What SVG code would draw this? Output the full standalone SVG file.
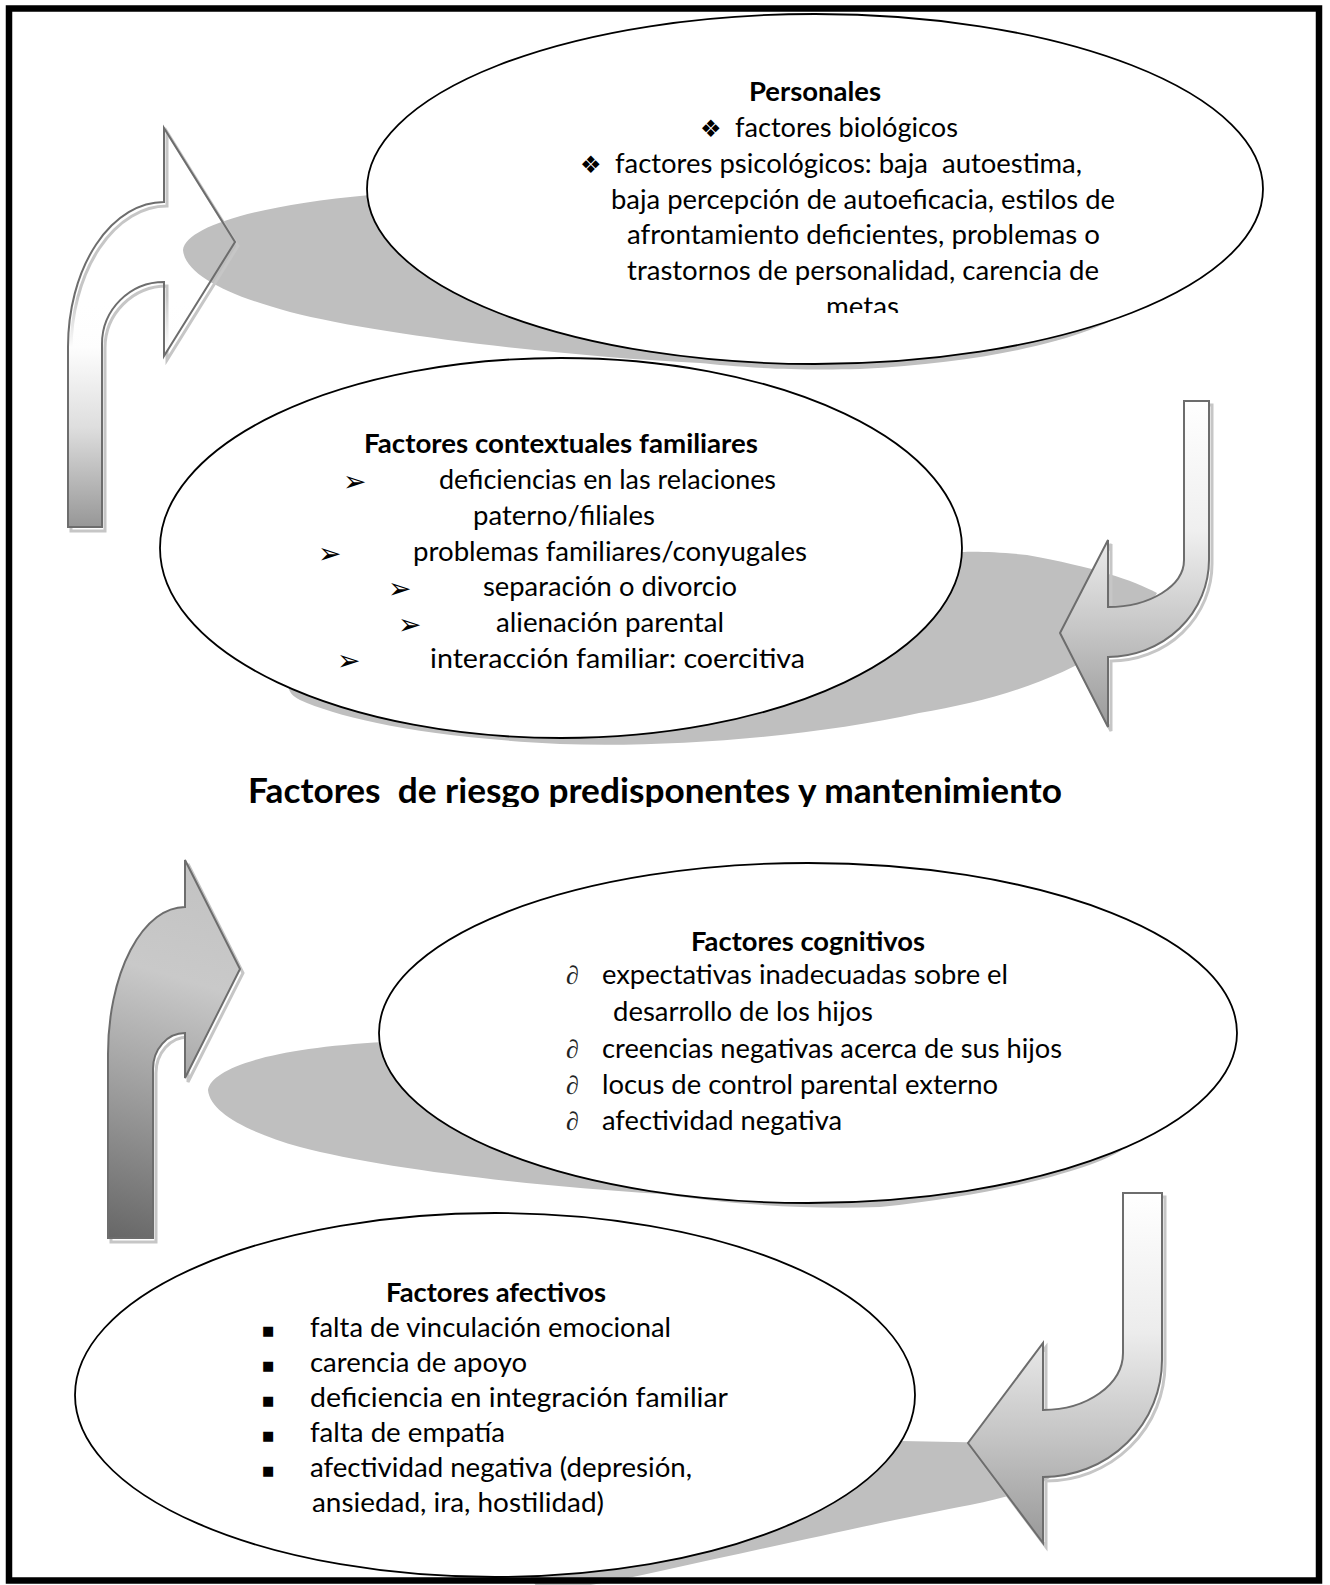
<svg xmlns="http://www.w3.org/2000/svg" width="1330" height="1585" viewBox="0 0 1330 1585">
  <defs>
    <style>
      .t{font-family:Lato,"Liberation Sans",sans-serif;font-size:27px;fill:#000}
      .b{font-weight:700}
      .h{font-family:Lato,"Liberation Sans",sans-serif;font-size:34px;font-weight:700;fill:#000}
      .bul{font-family:"DejaVu Sans",sans-serif;font-size:24px;fill:#000}
      .arr{font-family:"DejaVu Sans",sans-serif;font-size:28px;fill:#000}
      .sq{font-family:"DejaVu Sans",sans-serif;font-size:13px;fill:#000}
      .del{font-family:"Liberation Serif",serif;font-style:italic;font-size:26px;fill:#222}
      .node-shape{fill:#fff;stroke:#000;stroke-width:1.8}
      .shade{fill:#bfbfbf}
      .arrow{stroke:#6d6d6d;stroke-width:2;stroke-linejoin:miter}
      .arrow-shadow{fill:none;stroke:#c6c6c6;stroke-width:3}
    </style>
    <linearGradient id="gTL" gradientUnits="userSpaceOnUse" x1="0" y1="128" x2="0" y2="527">
      <stop offset="0" stop-color="#fff" stop-opacity="0"/>
      <stop offset="0.42" stop-color="#fff" stop-opacity="0"/>
      <stop offset="0.55" stop-color="#fdfdfd" stop-opacity="1"/>
      <stop offset="0.75" stop-color="#dedede"/>
      <stop offset="1" stop-color="#979797"/>
    </linearGradient>
    <linearGradient id="gTR" gradientUnits="userSpaceOnUse" x1="0" y1="401" x2="0" y2="727">
      <stop offset="0" stop-color="#ffffff"/>
      <stop offset="0.4" stop-color="#efefef"/>
      <stop offset="0.7" stop-color="#c6c6c6"/>
      <stop offset="1" stop-color="#9a9a9a"/>
    </linearGradient>
    <linearGradient id="gBR" gradientUnits="userSpaceOnUse" x1="0" y1="1193" x2="0" y2="1543">
      <stop offset="0" stop-color="#ffffff"/>
      <stop offset="0.4" stop-color="#ececec"/>
      <stop offset="0.7" stop-color="#c4c4c4"/>
      <stop offset="1" stop-color="#999999"/>
    </linearGradient>
    <linearGradient id="gBL" gradientUnits="userSpaceOnUse" x1="220" y1="870" x2="110" y2="1238">
      <stop offset="0" stop-color="#c2c2c2"/>
      <stop offset="0.3" stop-color="#c9c9c9"/>
      <stop offset="0.65" stop-color="#999999"/>
      <stop offset="1" stop-color="#676767"/>
    </linearGradient>
    <clipPath id="clipE1"><rect x="0" y="0" width="1330" height="313"/></clipPath>
    <clipPath id="clipTitle"><rect x="0" y="700" width="1330" height="107"/></clipPath>
  </defs>

  <rect width="1330" height="1585" fill="#fff"/>

  <!-- perspective shadows under the ellipses -->
  <g id="shadows">
    <path class="shade" d="M183,250 C186,228 250,206 370,195 L1100,240 L1135,306 C1100,335 1000,362 860,369 C780,371 730,366 700,363 C560,356 380,335 290,312 C230,296 185,275 183,250 Z"/>
    <path class="shade" d="M1157,593 C1133,580 1093,567 1027,555 C1000,552 975,551 962,552 L700,600 L290,680 C286,688 290,695 300,700 C340,718 420,737 560,744 C680,748 820,735 919,713 C1030,695 1125,655 1157,593 Z"/>
    <path class="shade" d="M208,1090 C212,1068 270,1048 385,1042 L1080,1080 L1122,1150 C1095,1168 1000,1195 880,1207 C800,1210 720,1203 661,1194 C520,1185 380,1168 300,1147 C250,1133 210,1113 208,1090 Z"/>
    <path class="shade" d="M902,1441 L1050,1444 L1060,1470 C1040,1488 1010,1497 970,1505 C900,1518 780,1545 665,1570 C620,1580 580,1588 540,1592 L480,1500 Z"/>
  </g>

  <!-- Personales -->
  <g id="node-personales">
    <ellipse class="node-shape" cx="815" cy="189" rx="448" ry="175"/>
    <text class="t b" x="749" y="101" textLength="132" lengthAdjust="spacingAndGlyphs">Personales</text>
    <text class="bul" x="700" y="137">❖</text>
    <text class="t" x="735" y="137" textLength="223" lengthAdjust="spacingAndGlyphs">factores biológicos</text>
    <text class="bul" x="580" y="173">❖</text>
    <text class="t" x="615" y="173" textLength="467" lengthAdjust="spacingAndGlyphs">factores psicológicos: baja&#160; autoestima,</text>
    <text class="t" x="611" y="209" textLength="504" lengthAdjust="spacingAndGlyphs">baja percepción de autoeficacia, estilos de</text>
    <text class="t" x="627" y="244" textLength="473" lengthAdjust="spacingAndGlyphs">afrontamiento deficientes, problemas o</text>
    <text class="t" x="627" y="280" textLength="472" lengthAdjust="spacingAndGlyphs">trastornos de personalidad, carencia de</text>
    <text class="t" x="826" y="316" textLength="73" lengthAdjust="spacingAndGlyphs" clip-path="url(#clipE1)">metas</text>
  </g>

  <!-- Factores contextuales familiares -->
  <g id="node-contextuales">
    <ellipse class="node-shape" cx="561" cy="548" rx="401" ry="190"/>
    <text class="t b" x="364" y="453" textLength="394" lengthAdjust="spacingAndGlyphs">Factores contextuales familiares</text>
    <text class="arr" x="343" y="491">➢</text>
    <text class="t" x="439" y="489" textLength="337" lengthAdjust="spacingAndGlyphs">deficiencias en las relaciones</text>
    <text class="t" x="473" y="525" textLength="182" lengthAdjust="spacingAndGlyphs">paterno/filiales</text>
    <text class="arr" x="318" y="563">➢</text>
    <text class="t" x="413" y="561" textLength="394" lengthAdjust="spacingAndGlyphs">problemas familiares/conyugales</text>
    <text class="arr" x="388" y="598">➢</text>
    <text class="t" x="483" y="596" textLength="254" lengthAdjust="spacingAndGlyphs">separación o divorcio</text>
    <text class="arr" x="398" y="634">➢</text>
    <text class="t" x="496" y="632" textLength="228" lengthAdjust="spacingAndGlyphs">alienación parental</text>
    <text class="arr" x="337" y="670">➢</text>
    <text class="t" x="430" y="668" textLength="375" lengthAdjust="spacingAndGlyphs">interacción familiar: coercitiva</text>
  </g>

  <!-- Factores cognitivos -->
  <g id="node-cognitivos">
    <ellipse class="node-shape" cx="808" cy="1033" rx="429" ry="170"/>
    <text class="t b" x="691" y="951" textLength="234" lengthAdjust="spacingAndGlyphs">Factores cognitivos</text>
    <text class="del" x="566" y="984">∂</text>
    <text class="t" x="602" y="984" textLength="406" lengthAdjust="spacingAndGlyphs">expectativas inadecuadas sobre el</text>
    <text class="t" x="613" y="1021" textLength="260" lengthAdjust="spacingAndGlyphs">desarrollo de los hijos</text>
    <text class="del" x="566" y="1058">∂</text>
    <text class="t" x="602" y="1058" textLength="460" lengthAdjust="spacingAndGlyphs">creencias negativas acerca de sus hijos</text>
    <text class="del" x="566" y="1094">∂</text>
    <text class="t" x="602" y="1094" textLength="396" lengthAdjust="spacingAndGlyphs">locus de control parental externo</text>
    <text class="del" x="566" y="1130">∂</text>
    <text class="t" x="602" y="1130" textLength="240" lengthAdjust="spacingAndGlyphs">afectividad negativa</text>
  </g>

  <!-- Factores afectivos -->
  <g id="node-afectivos">
    <ellipse class="node-shape" cx="495" cy="1395" rx="420" ry="182"/>
    <text class="t b" x="386" y="1302" textLength="220" lengthAdjust="spacingAndGlyphs">Factores afectivos</text>
    <text class="sq" x="262" y="1335">■</text>
    <text class="t" x="310" y="1337" textLength="361" lengthAdjust="spacingAndGlyphs">falta de vinculación emocional</text>
    <text class="sq" x="262" y="1370">■</text>
    <text class="t" x="310" y="1372" textLength="217" lengthAdjust="spacingAndGlyphs">carencia de apoyo</text>
    <text class="sq" x="262" y="1405">■</text>
    <text class="t" x="310" y="1407" textLength="418" lengthAdjust="spacingAndGlyphs">deficiencia en integración familiar</text>
    <text class="sq" x="262" y="1440">■</text>
    <text class="t" x="310" y="1442" textLength="195" lengthAdjust="spacingAndGlyphs">falta de empatía</text>
    <text class="sq" x="262" y="1475">■</text>
    <text class="t" x="310" y="1477" textLength="382" lengthAdjust="spacingAndGlyphs">afectividad negativa (depresión,</text>
    <text class="t" x="312" y="1512" textLength="292" lengthAdjust="spacingAndGlyphs">ansiedad, ira, hostilidad)</text>
  </g>

  <!-- curved block arrows -->
  <g id="connectors">
    <path class="arrow-shadow" transform="translate(3,4)" d="M68,527 L68,347 A96,145 0 0 1 164,202 L164,128 L235,242 L164,356 L164,282 A62,62 0 0 0 102,344 L102,527 Z"/>
    <path class="arrow" fill="url(#gTL)" d="M68,527 L68,347 A96,145 0 0 1 164,202 L164,128 L235,242 L164,356 L164,282 A62,62 0 0 0 102,344 L102,527 Z"/>

    <path class="arrow-shadow" transform="translate(3,4)" d="M1184,401 L1209,401 L1209,560 A101,97 0 0 1 1108,657 L1108,727 L1060,633 L1108,540 L1108,607 A76,47 0 0 0 1184,560 Z"/>
    <path class="arrow" fill="url(#gTR)" d="M1184,401 L1209,401 L1209,560 A101,97 0 0 1 1108,657 L1108,727 L1060,633 L1108,540 L1108,607 A76,47 0 0 0 1184,560 Z"/>

    <path class="arrow-shadow" transform="translate(3,4)" d="M108,1238 L108,1054 A77,147 0 0 1 185,907 L185,860 L240,969 L185,1078 L185,1033 A32,36 0 0 0 153,1069 L153,1238 Z"/>
    <path class="arrow" fill="url(#gBL)" d="M108,1238 L108,1054 A77,147 0 0 1 185,907 L185,860 L240,969 L185,1078 L185,1033 A32,36 0 0 0 153,1069 L153,1238 Z"/>

    <path class="arrow-shadow" transform="translate(3,4)" d="M1123,1193 L1162,1193 L1162,1360 A119,117 0 0 1 1043,1477 L1043,1543 L968,1443 L1043,1343 L1043,1410 A80,57 0 0 0 1123,1353 Z"/>
    <path class="arrow" fill="url(#gBR)" d="M1123,1193 L1162,1193 L1162,1360 A119,117 0 0 1 1043,1477 L1043,1543 L968,1443 L1043,1343 L1043,1410 A80,57 0 0 0 1123,1353 Z"/>
  </g>

  <!-- heading between the two cycles -->
  <g id="heading">
    <text class="h" x="248" y="803" textLength="814" lengthAdjust="spacingAndGlyphs" clip-path="url(#clipTitle)">Factores&#160; de riesgo predisponentes y mantenimiento</text>
  </g>

  <!-- page frame -->
  <rect x="9" y="8.5" width="1310" height="1572" fill="none" stroke="#000" stroke-width="6.5"/>
</svg>
